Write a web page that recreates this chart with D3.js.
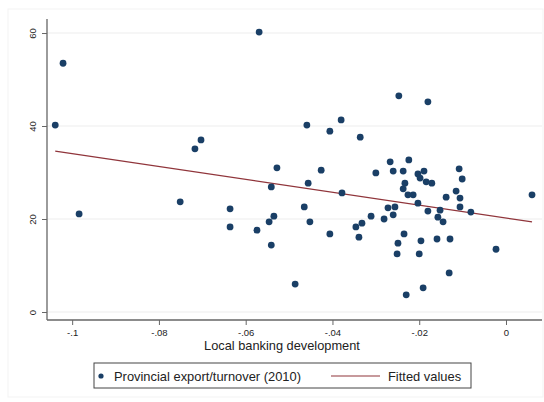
<!DOCTYPE html>
<html lang="en">
<head>
    <meta charset="UTF-8">
    <title>Local banking development scatter</title>
    <script src="https://d3js.org/d3.v7.min.js"></script>
    <style>
        body { margin: 0; background: #fff; }
        text { font-family: "Liberation Sans", Arial, sans-serif; fill: #222; }
    </style>
</head>
<body>
    <svg></svg>

    <script>
        const w = 544;
        const h = 402;

        // local banking development (x) and provincial export/turnover 2010 (y)
        const banking = [
            -0.1039, -0.1021, -0.0984, -0.0751, -0.0717, -0.0703, -0.0636, -0.0636, -0.0574, -0.0569,
            -0.0546, -0.0535, -0.0541, -0.0541, -0.0528, -0.0486, -0.0465, -0.0459, -0.0456, -0.0452,
            -0.0426, -0.0406, -0.0406, -0.0380, -0.0378, -0.0346, -0.0339, -0.0336, -0.0332, -0.0311,
            -0.0300, -0.0247, -0.0180, -0.0267, -0.0260, -0.0237, -0.0224, -0.0203, -0.0198, -0.0189,
            -0.0233, -0.0237, -0.0226, -0.0214, -0.0184, -0.0171, -0.0108, -0.0101, -0.0115, -0.0138,
            -0.0106, -0.0106, -0.0203, -0.0272, -0.0256, -0.0180, -0.0152, -0.0281, -0.0260, -0.0157,
            -0.0145, -0.0081, -0.0235, -0.0249, -0.0196, -0.0159, -0.0129, -0.0251, -0.0200, -0.0131,
            -0.0191, -0.0230, 0.0060, -0.0023
        ];
        const exportShare = [
            40.2, 53.5, 21.1, 23.7, 35.1, 37.0, 22.2, 18.3, 17.6, 60.2,
            19.4, 20.6, 14.4, 26.9, 31.0, 6.0, 22.6, 40.2, 27.7, 19.4,
            30.5, 38.9, 16.8, 41.3, 25.6, 18.3, 16.1, 37.6, 19.1, 20.6,
            29.9, 46.5, 45.2, 32.3, 30.3, 30.3, 32.7, 29.7, 28.8, 30.3,
            27.7, 26.5, 25.2, 25.2, 28.0, 27.7, 30.8, 28.6, 26.0, 24.7,
            24.5, 22.6, 23.4, 22.4, 22.6, 21.7, 21.9, 20.0, 20.9, 20.4,
            19.4, 21.5, 16.8, 14.8, 15.3, 15.7, 15.7, 12.5, 12.5, 8.4,
            5.2, 3.7, 25.2, 13.5
        ];

        // fitted line
        const fitIntercept = 20.2;
        const fitSlope = -138.7;

        const xTicks = [-0.1, -0.08, -0.06, -0.04, -0.02, 0];
        const xTickLabels = ["-.1", "-.08", "-.06", "-.04", "-.02", "0"];
        const yTicks = [0, 20, 40, 60];

        const plotLeft = 47, plotRight = 542, plotTop = 10, plotBottom = 320;

        const svg = d3.select("svg")
            .attr("width", w)
            .attr("height", h);

        const x = d3.scaleLinear()
            .domain([-0.1058, 0.0083])
            .range([plotLeft, plotRight]);

        const y = d3.scaleLinear()
            .domain([-1.72, 64.95])
            .range([plotBottom, plotTop]);

        // faint outer frame
        svg.append("rect")
            .attr("x", 8).attr("y", 9)
            .attr("width", 535).attr("height", 388)
            .attr("fill", "none")
            .attr("stroke", "#f3f3f3");

        // gridlines
        svg.append("g")
            .selectAll("line")
            .data(yTicks)
            .enter()
            .append("line")
                .attr("x1", plotLeft)
                .attr("x2", plotRight)
                .attr("y1", d => y(d))
                .attr("y2", d => y(d))
                .attr("stroke", "#eeeeee")
                .attr("stroke-width", 1.2);

        // fitted values
        const xExtent = d3.extent(banking);
        svg.append("line")
            .attr("x1", x(xExtent[0]))
            .attr("y1", y(fitIntercept + fitSlope * xExtent[0]))
            .attr("x2", x(xExtent[1]))
            .attr("y2", y(fitIntercept + fitSlope * xExtent[1]))
            .attr("stroke", "#90353b")
            .attr("stroke-width", 1.2);

        // points
        svg.append("g")
            .selectAll("circle")
            .data(banking)
            .enter()
            .append("circle")
                .attr("cx", d => x(d))
                .attr("cy", (d, i) => y(exportShare[i]))
                .attr("r", 3.4)
                .attr("fill", "#1a3f66");

        // x axis
        const xAxis = d3.axisBottom(x)
            .tickValues(xTicks)
            .tickFormat((d, i) => xTickLabels[i])
            .tickSize(5)
            .tickPadding(4);

        const gx = svg.append("g")
            .attr("transform", `translate(0, ${plotBottom})`)
            .call(xAxis);
        gx.select(".domain").attr("d", `M${plotLeft},0H${plotRight}`).attr("stroke", "#666").attr("stroke-width", 1.3);
        gx.selectAll(".tick line").attr("stroke", "#666");
        gx.selectAll(".tick text").attr("font-size", 9.5).attr("fill", "#333");

        // y axis, labels turned sideways like Stata
        const yAxis = d3.axisLeft(y)
            .tickValues(yTicks)
            .tickSize(5);

        const gy = svg.append("g")
            .attr("transform", `translate(${plotLeft}, 0)`)
            .call(yAxis);
        gy.select(".domain").attr("d", `M0,${y(63)}V${plotBottom}`).attr("stroke", "#666").attr("stroke-width", 1.3);
        gy.selectAll(".tick line").attr("stroke", "#666");
        gy.selectAll(".tick text")
            .attr("font-size", 9.5)
            .attr("fill", "#333")
            .attr("x", null)
            .attr("dy", null)
            .attr("text-anchor", "middle")
            .attr("dominant-baseline", "middle")
            .attr("transform", "translate(-14, 0) rotate(-90)");

        // axis title
        svg.append("text")
            .attr("x", 282)
            .attr("y", 350)
            .attr("text-anchor", "middle")
            .attr("font-size", 12.8)
            .text("Local banking development");

        // legend
        const legend = svg.append("g");
        legend.append("rect")
            .attr("x", 94).attr("y", 363)
            .attr("width", 377).attr("height", 25)
            .attr("fill", "#fff")
            .attr("stroke", "#444")
            .attr("stroke-width", 1);
        legend.append("circle")
            .attr("cx", 101).attr("cy", 376)
            .attr("r", 2.6)
            .attr("fill", "#1a3f66");
        legend.append("text")
            .attr("x", 114).attr("y", 380.5)
            .attr("font-size", 12.9)
            .text("Provincial export/turnover (2010)");
        legend.append("line")
            .attr("x1", 331).attr("x2", 380)
            .attr("y1", 376).attr("y2", 376)
            .attr("stroke", "#90353b")
            .attr("stroke-width", 1.2);
        legend.append("text")
            .attr("x", 388).attr("y", 380.5)
            .attr("font-size", 12.9)
            .text("Fitted values");
    </script>
</body>
</html>
